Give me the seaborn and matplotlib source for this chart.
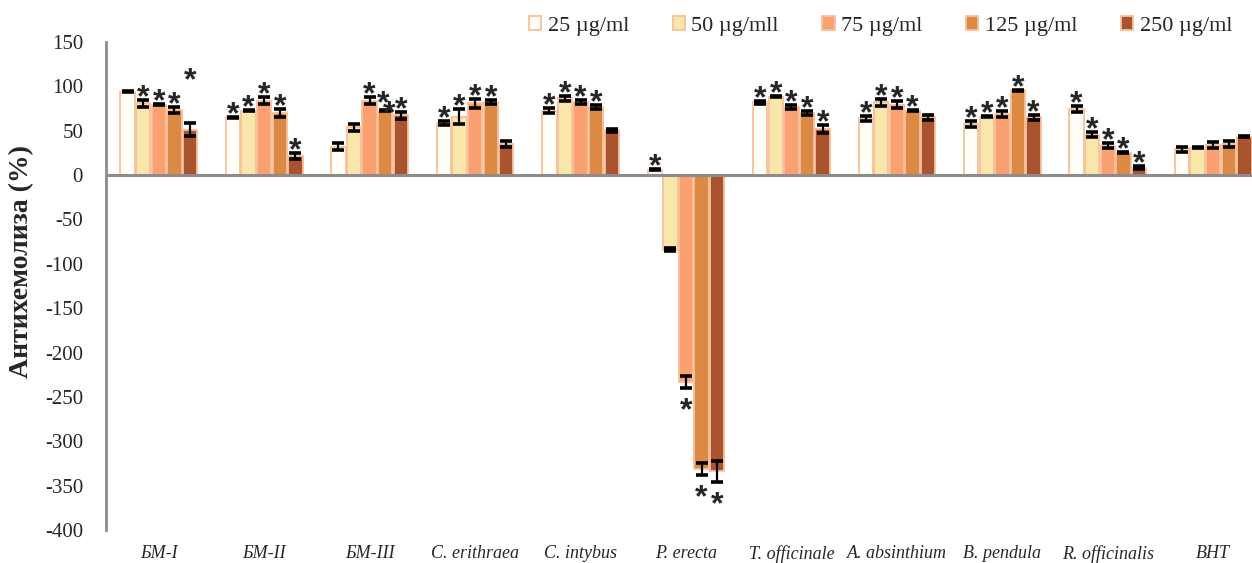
import numpy as np
import pandas as pd
import matplotlib
matplotlib.use("Agg")
import matplotlib.pyplot as plt
from matplotlib.patches import Patch
import seaborn as sns

categories = ['БМ-I', 'БМ-II', 'БМ-III', 'C. erithraea', 'C. intybus', 'P. erecta',
              'T. officinale', 'A. absinthium', 'B. pendula', 'R. officinalis', 'BHT']
concentrations = ['25 µg/ml', '50 µg/mll', '75 µg/ml', '125 µg/ml', '250 µg/ml']

v25 = [94, 65, 32, 59, 72.5, 6, 82, 64, 57.5, 74.5, 29]
e25 = [0.5, 0.5, 4, 2, 3, 0.5, 2, 3, 3, 3, 3]
v50 = [81, 72.5, 54, 66, 86.5, -84, 88.5, 82, 66, 45.5, 31]
e50 = [4, 0.5, 4, 8, 3, 1.5, 0.5, 4, 0.5, 3, 0.5]
v75 = [79.5, 84, 84, 81, 82.5, -233, 77, 79.5, 69, 33, 34]
e75 = [1, 3.5, 4, 5, 2, 7, 2, 4, 3, 3, 3]
v125 = [73.5, 70, 72.5, 82.5, 77, -331, 70, 72.5, 95.5, 25, 35]
e125 = [3, 4, 0.5, 2, 2, 7, 2, 0.5, 0.5, 0.5, 3]
v250 = [51, 21.5, 67.5, 35, 50.5, -334, 52, 65, 65, 8.5, 43]
e250 = [7.5, 3, 4, 3, 2, 12, 4, 3, 3, 2, 0.5]

# significance stars per category (one entry per concentration)
stars = [
    [0, 1, 1, 1, 1],
    [1, 1, 1, 1, 1],
    [0, 0, 1, 2, 1],
    [1, 1, 1, 1, 0],
    [1, 1, 1, 1, 0],
    [1, 0, 1, 1, 1],
    [1, 1, 1, 1, 1],
    [1, 1, 1, 1, 0],
    [1, 1, 1, 1, 1],
    [1, 1, 1, 1, 1],
    [0, 0, 0, 0, 0],
]

values = [v25, v50, v75, v125, v250]
errors = [e25, e50, e75, e125, e250]

rows = []
for ci, conc in enumerate(concentrations):
    for k, cat in enumerate(categories):
        rows.append({'cat': cat, 'conc': conc, 'val': values[ci][k]})
df = pd.DataFrame(rows)

colors = ['#FFFEF7', '#F9E6AA', '#FBA171', '#DC8944', '#A9532F']
edge = '#F8C09C'

sns.set_theme(style='white')
plt.rcParams['font.family'] = ['Liberation Serif', 'DejaVu Serif']
plt.rcParams['axes.unicode_minus'] = False

fig = plt.figure(figsize=(12.52, 5.63), dpi=100)
ax = fig.add_axes([106 / 1252, 1 - 530 / 563, 1160 / 1252, 488 / 563])

sns.barplot(data=df, x='cat', y='val', hue='conc', order=categories,
            hue_order=concentrations, palette=colors, saturation=1, width=0.74, gap=0.08,
            edgecolor=edge, linewidth=1.3, legend=False, ax=ax, errorbar=None)

STAR_PT = 23
# offsets in pixels (glyph centre is ~0.57 em above baseline)
glyph_c = 0.57 * STAR_PT / 0.72


def star(x, y, dx_px, dy_px):
    ax.annotate('*', xy=(x, y), xytext=(dx_px * 0.72, (dy_px - glyph_c) * 0.72),
                textcoords='offset points', ha='center', va='baseline',
                fontsize=STAR_PT, family='Liberation Sans', fontweight='bold', zorder=6)


bar_containers = list(ax.containers)
for ci, cont in enumerate(bar_containers):
    for k, bar in enumerate(cont.patches):
        x = bar.get_x() + bar.get_width() / 2
        v = values[ci][k]
        e = errors[ci][k]
        ax.errorbar(x, v, yerr=e, fmt='none', ecolor='black', elinewidth=1.6,
                    capsize=4.5, capthick=2.6, zorder=5)
        n = stars[k][ci]
        if n == 0:
            continue
        if v >= 0:
            if n == 2:
                star(x, v + e, -2, 16)
                star(x, v + e, 4, 6.5)
                continue
            lift = 52.5 if (k == 0 and ci == 4) else 12
            star(x, v + e, 0, lift)
        else:
            star(x, v - e, 0, -13)

ax.set_xlim(-0.5, 10.5)
ax.set_ylim(-400, 150)
ax.set_yticks(np.arange(-400, 151, 50))
ax.tick_params(axis='y', labelsize=15, length=0, pad=16.5)
ax.tick_params(axis='x', labelsize=13, length=0, pad=11)
ax.set_xticks(range(len(categories)))
ax.set_xticklabels(categories, style='italic')
ax.set_xlabel('')
ax.set_ylabel('Антихемолиза (%)', fontsize=20, fontweight='bold')
ax.yaxis.set_label_coords(-(106 - 34) / 1160, 0.55)

for s in ['top', 'right', 'bottom']:
    ax.spines[s].set_visible(False)
ax.spines['left'].set_color('#8C8C8C')
ax.spines['left'].set_linewidth(2)
ax.axhline(0, color='#8C8C8C', linewidth=2.2, zorder=4)
ax.grid(False)

handles = [Patch(facecolor=c, edgecolor=edge, linewidth=1.3) for c in colors]
fig.legend(handles, concentrations, loc='center right', bbox_to_anchor=(1232 / 1252, 1 - 26 / 563),
           ncol=5, frameon=False, fontsize=16, handlelength=0.55, handleheight=0.6,
           handletextpad=0.3, columnspacing=1.95, borderpad=0, borderaxespad=0)

fig.savefig('out.png', dpi=100)
